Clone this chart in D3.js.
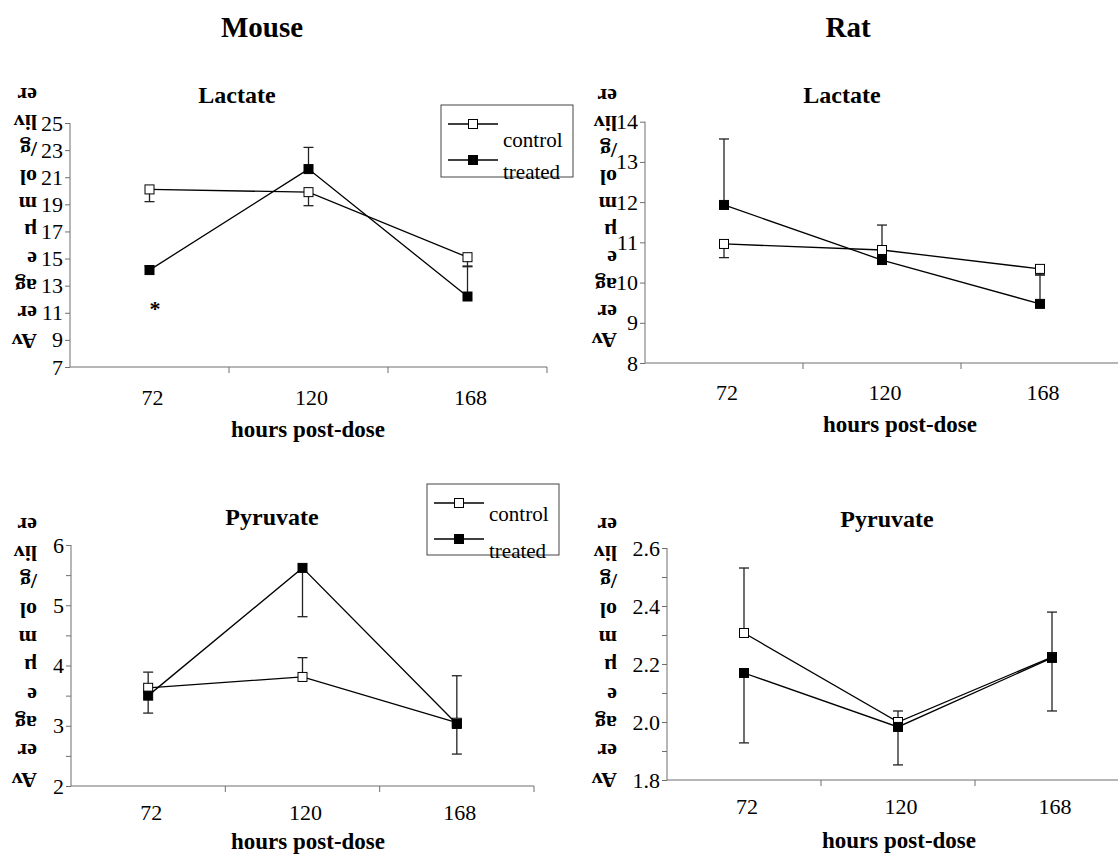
<!DOCTYPE html>
<html>
<head>
<meta charset="utf-8">
<script src="https://cdn.jsdelivr.net/npm/d3@7"></script>
<style>
  body { margin: 0; background: #fff; }
  svg { display: block; }
  text { font-family: "Liberation Serif", "Times New Roman", serif; fill: #000; }
</style>
</head>
<body>
<div id="chart"></div>
<script>
// data
var hours = ["72", "120", "168"];
var seriesNames = ["control", "treated"];
var yLabelParts = ["Av", "er", "ag", "e", "µ", "m", "ol", "/g", "liv", "er"];

var mouseLactateControl    = [20.1, 19.9, 15.1];
var mouseLactateControlErr = [0.9, 1.0, 0.7];
var mouseLactateTreated    = [14.15, 21.6, 12.2];
var mouseLactateTreatedErr = [0.3, 1.6, 2.25];

var ratLactateControl    = [10.96, 10.81, 10.34];
var ratLactateControlErr = [0.34, 0.1, 0.15];
var ratLactateTreated    = [11.93, 10.56, 9.47];
var ratLactateTreatedErr = [1.64, 0.87, 0.72];

var mousePyruvateControl    = [3.63, 3.81, 3.05];
var mousePyruvateControlErr = [0.26, 0.32, 0.78];
var mousePyruvateTreated    = [3.50, 5.62, 3.03];
var mousePyruvateTreatedErr = [0.29, 0.81, 0.50];

var ratPyruvateControl    = [2.307, 2.000, 2.224];
var ratPyruvateControlErr = [0.224, 0.038, 0.155];
var ratPyruvateTreated    = [2.169, 1.983, 2.221];
var ratPyruvateTreatedErr = [0.241, 0.131, 0.183];

var W = 1118, H = 854;
var svg = d3.select("#chart").append("svg")
    .attr("width", W)
    .attr("height", H);

var axisColor = "#6e6e6e";

// column headers
svg.append("text").attr("x", 262).attr("y", 37).attr("text-anchor", "middle")
   .style("font-size", "29px").style("font-weight", "bold").text("Mouse");
svg.append("text").attr("x", 848).attr("y", 37).attr("text-anchor", "middle")
   .style("font-size", "29px").style("font-weight", "bold").text("Rat");

var panels = [
  { title: "Lactate", tx: 237, ty: 103,
    x0: 70, x1: 547, yTop: 123, yBot: 367, domain: [7, 25], step: 2, labelEvery: 1, fmt: d3.format("d"),
    xLabY: 405, xTitle: { x: 308, y: 437 },
    fragX: 37, fragTop: 95, fragBot: 341,
    control: mouseLactateControl, controlErr: mouseLactateControlErr, controlDir: -1,
    treated: mouseLactateTreated, treatedErr: mouseLactateTreatedErr, treatedDir: 1,
    legend: { x: 441, y: 105, w: 132, h: 72, l1: 124, l2: 160, t1: 147, t2: 179, lx: 448 },
    star: { x: 155, y: 316 } },
  { title: "Lactate", tx: 842, ty: 103,
    x0: 645, x1: 1119, yTop: 121.7, yBot: 363, domain: [8, 14], step: 1, labelEvery: 1, fmt: d3.format("d"),
    xLabY: 400, xTitle: { x: 900, y: 432 },
    fragX: 617, fragTop: 96, fragBot: 340,
    control: ratLactateControl, controlErr: ratLactateControlErr, controlDir: -1,
    treated: ratLactateTreated, treatedErr: ratLactateTreatedErr, treatedDir: 1 },
  { title: "Pyruvate", tx: 272, ty: 525,
    x0: 71, x1: 534, yTop: 545, yBot: 786, domain: [2, 6], step: 0.5, labelEvery: 2, fmt: d3.format("d"),
    xLabY: 820, xTitle: { x: 308, y: 849 },
    fragX: 37, fragTop: 525, fragBot: 780,
    control: mousePyruvateControl, controlErr: mousePyruvateControlErr, controlDir: 1,
    treated: mousePyruvateTreated, treatedErr: mousePyruvateTreatedErr, treatedDir: -1,
    legend: { x: 427, y: 484, w: 132, h: 71, l1: 503, l2: 539, t1: 521, t2: 558, lx: 434 } },
  { title: "Pyruvate", tx: 887, ty: 527,
    x0: 667, x1: 1129, yTop: 548, yBot: 780, domain: [1.8, 2.6], step: 0.1, labelEvery: 2, fmt: d3.format(".1f"),
    xLabY: 814, xTitle: { x: 899, y: 848 },
    fragX: 617, fragTop: 525, fragBot: 780,
    control: ratPyruvateControl, controlErr: ratPyruvateControlErr, controlDir: 1,
    treated: ratPyruvateTreated, treatedErr: ratPyruvateTreatedErr, treatedDir: -1 }
];

panels.forEach(function (p) {
  var g = svg.append("g");

  var x = d3.scaleBand().domain(hours).range([p.x0, p.x1]).paddingInner(0).paddingOuter(0);
  var y = d3.scaleLinear().domain(p.domain).range([p.yBot, p.yTop]);

  // title
  g.append("text").attr("x", p.tx).attr("y", p.ty).attr("text-anchor", "middle")
    .style("font-size", "24px").style("font-weight", "bold").text(p.title);

  // y axis
  var n = Math.round((p.domain[1] - p.domain[0]) / p.step);
  var yTicks = d3.range(n + 1).map(function (i) { return p.domain[0] + i * p.step; });
  var yAxis = d3.axisLeft(y).tickValues(yTicks).tickSize(5)
    .tickFormat(function (d, i) { return i % p.labelEvery === 0 ? p.fmt(d) : ""; });
  var ya = g.append("g").attr("transform", "translate(" + p.x0 + ",0)").call(yAxis);
  ya.attr("font-family", null).attr("font-size", null);
  ya.select(".domain").attr("stroke", axisColor).attr("d", "M0," + p.yTop + "V" + p.yBot);
  ya.selectAll(".tick line").attr("stroke", axisColor);
  ya.selectAll(".tick text").attr("x", -7).style("font-size", "22px").attr("fill", "#000");

  // x axis: ticks at category boundaries, labels at centres
  var bounds = hours.map(function (h) { return x(h) + x.bandwidth(); });
  g.append("line").attr("x1", p.x0).attr("x2", p.x1).attr("y1", p.yBot).attr("y2", p.yBot)
    .attr("stroke", axisColor);
  g.selectAll(".xt").data(bounds).enter().append("line")
    .attr("x1", function (d) { return d; }).attr("x2", function (d) { return d; })
    .attr("y1", p.yBot).attr("y2", p.yBot + 6).attr("stroke", axisColor);
  g.selectAll(".xl").data(hours).enter().append("text")
    .attr("x", function (d) { return x(d) + x.bandwidth() / 2 + 3; })
    .attr("y", p.xLabY).attr("text-anchor", "middle").style("font-size", "22px")
    .text(function (d) { return d; });
  g.append("text").attr("x", p.xTitle.x).attr("y", p.xTitle.y).attr("text-anchor", "middle")
    .style("font-size", "23px").style("font-weight", "bold").text("hours post-dose");

  // upside-down stacked y label
  var fy = d3.scalePoint().domain(d3.range(yLabelParts.length)).range([p.fragBot, p.fragTop]);
  g.selectAll(".frag").data(yLabelParts).enter().append("text")
    .attr("transform", function (d, i) { return "translate(" + p.fragX + "," + fy(i) + ") rotate(180)"; })
    .attr("text-anchor", "start").attr("dominant-baseline", "central")
    .style("font-size", "22px").style("font-weight", "bold")
    .text(function (d) { return d; });

  var cx = function (i) { return x(hours[i]) + x.bandwidth() / 2; };
  var line = d3.line().x(function (d, i) { return cx(i); }).y(function (d) { return y(d); });

  var series = [
    { vals: p.control, err: p.controlErr, dir: p.controlDir, fill: "#fff" },
    { vals: p.treated, err: p.treatedErr, dir: p.treatedDir, fill: "#000" }
  ];

  series.forEach(function (s) {
    g.append("path").attr("d", line(s.vals)).attr("fill", "none")
      .attr("stroke", "#000").attr("stroke-width", 1.3);
  });

  series.forEach(function (s) {
    s.vals.forEach(function (v, i) {
      var e = v + s.dir * s.err[i];
      g.append("line").attr("x1", cx(i)).attr("x2", cx(i)).attr("y1", y(v)).attr("y2", y(e))
        .attr("stroke", "#222").attr("stroke-width", 1.3);
      g.append("line").attr("x1", cx(i) - 5).attr("x2", cx(i) + 5).attr("y1", y(e)).attr("y2", y(e))
        .attr("stroke", "#222").attr("stroke-width", 1.3);
    });
  });

  series.forEach(function (s) {
    g.selectAll(null).data(s.vals).enter().append("rect")
      .attr("x", function (d, i) { return cx(i) - 4.5; })
      .attr("y", function (d) { return y(d) - 4.5; })
      .attr("width", 9).attr("height", 9)
      .attr("fill", s.fill).attr("stroke", "#000").attr("stroke-width", 1);
  });

  if (p.star) {
    g.append("text").attr("x", p.star.x).attr("y", p.star.y).attr("text-anchor", "middle")
      .style("font-size", "22px").style("font-weight", "bold").text("*");
  }

  if (p.legend) {
    var L = p.legend;
    g.append("rect").attr("x", L.x).attr("y", L.y).attr("width", L.w).attr("height", L.h)
      .attr("fill", "#fff").attr("stroke", "#444").attr("stroke-width", 1);
    [L.l1, L.l2].forEach(function (ly, k) {
      g.append("line").attr("x1", L.lx).attr("x2", L.lx + 50).attr("y1", ly).attr("y2", ly)
        .attr("stroke", "#000").attr("stroke-width", 1.3);
      g.append("rect").attr("x", L.lx + 25 - 4.5).attr("y", ly - 4.5).attr("width", 9).attr("height", 9)
        .attr("fill", k === 0 ? "#fff" : "#000").attr("stroke", "#000");
    });
    g.append("text").attr("x", L.lx + 55).attr("y", L.t1).style("font-size", "21px").text(seriesNames[0]);
    g.append("text").attr("x", L.lx + 55).attr("y", L.t2).style("font-size", "21px").text(seriesNames[1]);
  }
});
</script>
</body>
</html>
